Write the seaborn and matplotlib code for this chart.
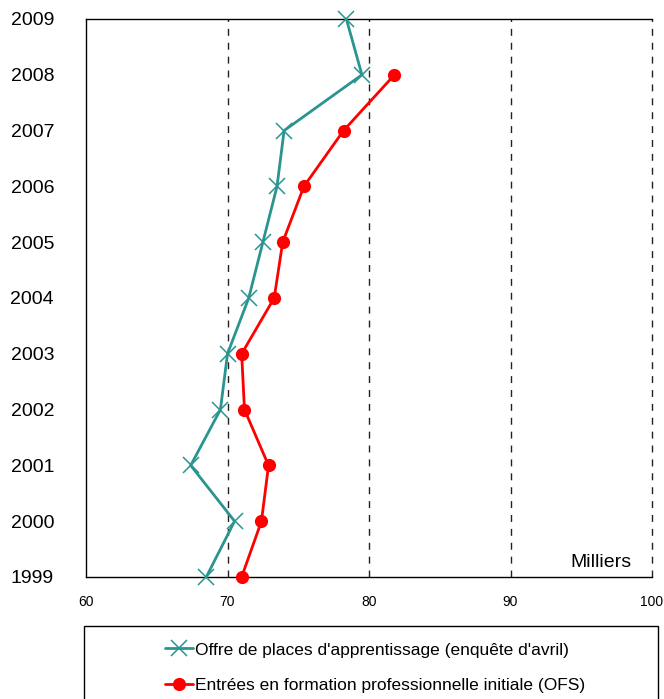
import numpy as np
import pandas as pd
import matplotlib
matplotlib.use('Agg')
import matplotlib.pyplot as plt
import seaborn as sns
from matplotlib.patches import Rectangle
from matplotlib.lines import Line2D

annees = [1999, 2000, 2001, 2002, 2003, 2004, 2005, 2006, 2007, 2008, 2009]
offre = [68.5, 70.5, 67.4, 69.5, 70.0, 71.5, 72.5, 73.5, 74.0, 79.5, 78.4]
entrees = [71.0, 72.4, 72.9, 71.2, 71.0, 73.3, 73.9, 75.4, 78.2, 81.8, np.nan]

lab_offre = "Offre de places d'apprentissage (enquête d'avril)"
lab_entrees = "Entrées en formation professionnelle initiale (OFS)"

teal = '#2A9490'
rouge = '#FF0000'

sns.set_style('white')
plt.rcParams['font.family'] = ['Liberation Sans', 'DejaVu Sans']
plt.rcParams['text.color'] = 'black'
plt.rcParams['xtick.color'] = 'black'
plt.rcParams['ytick.color'] = 'black'

fig = plt.figure(figsize=(6.64, 6.99), dpi=100)
ax = fig.add_axes([86/664, 1 - 577/699, (652-86)/664, (577-19)/699])

df1 = pd.DataFrame({'annee': annees, 'val': offre})
df2 = pd.DataFrame({'annee': annees, 'val': entrees}).dropna()

sns.lineplot(data=df1, x='val', y='annee', orient='y', ax=ax, color=teal,
             linewidth=2, marker='x', markersize=11, markeredgewidth=1.1,
             markeredgecolor=teal, clip_on=False, zorder=4)
sns.lineplot(data=df2, x='val', y='annee', orient='y', ax=ax, color=rouge,
             linewidth=2, marker='o', markersize=9.5, markeredgewidth=0,
             clip_on=False, zorder=5)

ax.set_xlim(60, 100)
ax.set_ylim(1999, 2009)
ax.set_xticks([60, 70, 80, 90, 100])
ax.set_yticks(annees)
ax.set_yticklabels([str(a) for a in annees], fontsize=14)
ax.tick_params(axis='x', labelsize=10, length=0, pad=13)
ax.tick_params(axis='y', length=0, pad=23)
ax.set_xlabel('')
ax.set_ylabel('')

for v in [70, 80, 90, 100]:
    ax.axvline(v, color='#222222', linestyle=(0, (5, 5)), linewidth=1,
               zorder=1, clip_on=False)

for s in ['left', 'bottom', 'top']:
    ax.spines[s].set_color('black')
    ax.spines[s].set_linewidth(1)
ax.spines['right'].set_visible(False)

ax.text(0.963, 0.011, 'Milliers', transform=ax.transAxes, ha='right',
        va='bottom', fontsize=14)

if ax.get_legend() is not None:
    ax.get_legend().remove()

# cadre de la légende
fig.patches.append(Rectangle((84/664, -0.05), (658-84)/664, 0.05 + 1 - 626/699,
                             transform=fig.transFigure, fill=False,
                             edgecolor='black', linewidth=1))

handles = [
    Line2D([], [], color=teal, linewidth=2, marker='x', markersize=11,
           markeredgewidth=1.1),
    Line2D([], [], color=rouge, linewidth=2, marker='o', markersize=9.5,
           markeredgewidth=0),
]
fig.legend(handles, [lab_offre, lab_entrees], loc='center',
           bbox_to_anchor=(0.565, 1 - 667.5/699), frameon=False, fontsize=12.5,
           handlelength=1.6, handletextpad=0.15, labelspacing=1.15)

fig.savefig('out.png', dpi=100)
